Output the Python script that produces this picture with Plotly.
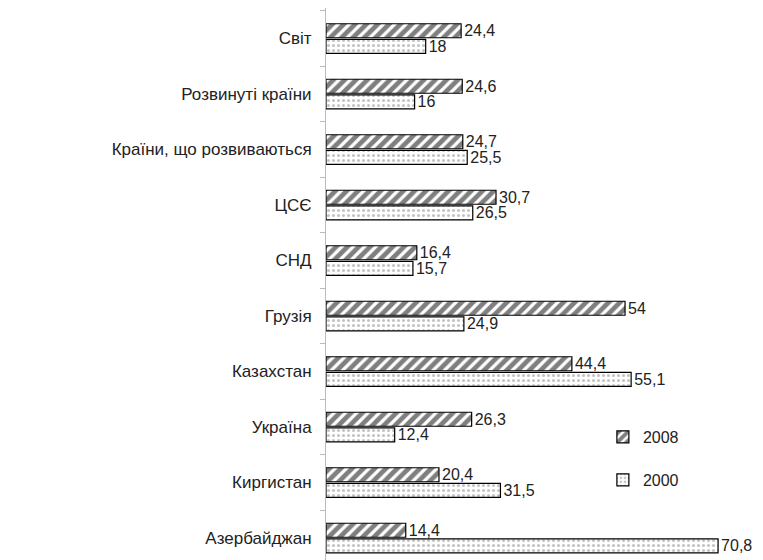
import plotly.graph_objects as go

categories = ["Світ", "Розвинуті країни", "Країни, що розвиваються", "ЦСЄ", "СНД",
              "Грузія", "Казахстан", "Україна", "Киргистан", "Азербайджан"]
values_2008 = [24.4, 24.6, 24.7, 30.7, 16.4, 54, 44.4, 26.3, 20.4, 14.4]
values_2000 = [18, 16, 25.5, 26.5, 15.7, 24.9, 55.1, 12.4, 31.5, 70.8]
labels_2008 = ["24,4", "24,6", "24,7", "30,7", "16,4", "54", "44,4", "26,3", "20,4", "14,4"]
labels_2000 = ["18", "16", "25,5", "26,5", "15,7", "24,9", "55,1", "12,4", "31,5", "70,8"]

font_family = "Liberation Sans, Arial, sans-serif"

fig = go.Figure()
fig.add_trace(go.Bar(
    y=categories, x=values_2008, orientation="h", name="2008",
    text=labels_2008, textposition="outside", cliponaxis=False, constraintext="none",
    textfont=dict(size=16, color="#222"),
    marker=dict(color="white", line=dict(color="black", width=1.2),
                pattern=dict(shape="/", fgcolor="black", bgcolor="white", size=8, solidity=0.6)),
    legend="legend", showlegend=True,
))
fig.add_trace(go.Bar(
    y=categories, x=values_2000, orientation="h", name="2000",
    text=labels_2000, textposition="outside", cliponaxis=False, constraintext="none",
    textfont=dict(size=16, color="#222"),
    marker=dict(color="white", line=dict(color="black", width=1.2),
                pattern=dict(shape=".", fgcolor="#888", bgcolor="white", size=5, solidity=0.3)),
    legend="legend2", showlegend=True,
))

fig.update_layout(
    width=755, height=552,
    margin=dict(l=318, r=20, t=0, b=0, autoexpand=False),
    paper_bgcolor="white", plot_bgcolor="white",
    font=dict(family=font_family, size=17, color="#222"),
    barmode="group", bargap=0.44, bargroupgap=0.1,
    showlegend=True,
    legend=dict(x=0.664, y=0.223, xanchor="left", yanchor="middle",
                bgcolor="rgba(0,0,0,0)", font=dict(size=16), itemwidth=30),
    legend2=dict(x=0.664, y=0.145, xanchor="left", yanchor="middle",
                 bgcolor="rgba(0,0,0,0)", font=dict(size=16), itemwidth=30),
)
fig.update_xaxes(range=[0, 75.3], visible=False, showgrid=False, zeroline=False,
                 automargin=False)
fig.update_yaxes(
    type="category", range=[9.396, -0.55], automargin=False,
    showline=True, linecolor="#bbb", linewidth=1,
    ticks="outside", tickson="boundaries", ticklen=5, tickcolor="#bbb",
    showgrid=False, ticklabelstandoff=10,
)

fig.write_html("out.html")
